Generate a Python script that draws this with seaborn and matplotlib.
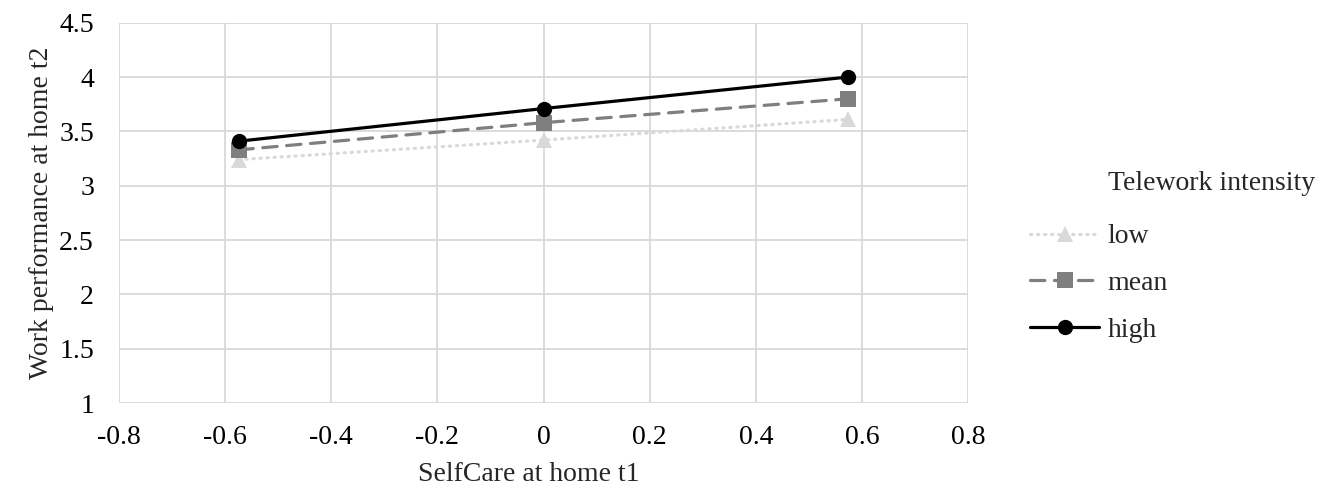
import numpy as np
import pandas as pd
import matplotlib
matplotlib.use("Agg")
import matplotlib.pyplot as plt
import seaborn as sns

# simple slopes: work performance at home t2 by selfcare t1, per telework level
selfcare = [-0.574, 0.0, 0.574]
levels = ["low", "mean", "high"]
perf_low = [3.24, 3.42, 3.61]
perf_mean = [3.33, 3.58, 3.80]
perf_high = [3.41, 3.71, 4.00]

df = pd.DataFrame({
    "selfcare": selfcare * 3,
    "perf": perf_low + perf_mean + perf_high,
    "level": [lv for lv in levels for _ in selfcare],
})

sns.set_theme(style="whitegrid")
plt.rcParams["font.family"] = ["Liberation Serif", "DejaVu Serif"]
FS = 20

fig = plt.figure(figsize=(13.25, 4.94), dpi=100)
ax = fig.add_axes([0.0898, 0.1842, 0.6408, 0.7698])

palette = {"low": "#d9d9d9", "mean": "#7f7f7f", "high": "#000000"}
markers = {"low": "^", "mean": "s", "high": "o"}
dashes = {"low": (0.4, 1.8), "mean": (4.5, 3.0), "high": ""}

sns.lineplot(data=df, x="selfcare", y="perf", hue="level", style="level",
             hue_order=levels, style_order=levels, palette=palette,
             markers=markers, dashes=dashes, linewidth=2.3, markersize=11,
             markeredgewidth=0, ax=ax)
for ln in ax.get_lines():
    ln.set_dash_capstyle("round")

ax.set_xlim(-0.8, 0.8)
ax.set_ylim(1, 4.5)
ax.set_xticks(np.arange(-0.8, 0.81, 0.2))
ax.set_xticklabels(["-0.8", "-0.6", "-0.4", "-0.2", "0", "0.2", "0.4", "0.6", "0.8"])
ax.set_yticks(np.arange(1, 4.51, 0.5))
ax.set_yticklabels(["1", "1.5", "2", "2.5", "3", "3.5", "4", "4.5"])
ax.tick_params(axis="x", labelsize=FS, length=0, pad=16, colors="#000000")
ax.tick_params(axis="y", labelsize=FS, length=0, pad=18, colors="#000000")
ax.grid(True, color="#d9d9d9", linewidth=1.3)
for s in ax.spines.values():
    s.set_visible(False)
ax.set_xlabel("SelfCare at home t1", fontsize=FS, labelpad=8)
ax.xaxis.set_label_coords(0.483, -0.155)
ax.set_ylabel("Work performance at home t2", fontsize=FS, labelpad=4)

handles, labels = ax.get_legend_handles_labels()
leg = ax.legend(handles, labels, loc="upper left",
                bbox_to_anchor=(1030 / 1325, 1 - 224 / 494),
                bbox_transform=fig.transFigure, frameon=False, fontsize=FS,
                handlelength=2.5, handletextpad=0.3, labelspacing=0.76,
                borderpad=0, borderaxespad=0)
fig.text(1108 / 1325, 1 - 183 / 494, "Telework intensity", fontsize=FS,
         ha="left", va="center")

fig.savefig("out.png", dpi=100, facecolor="white")
